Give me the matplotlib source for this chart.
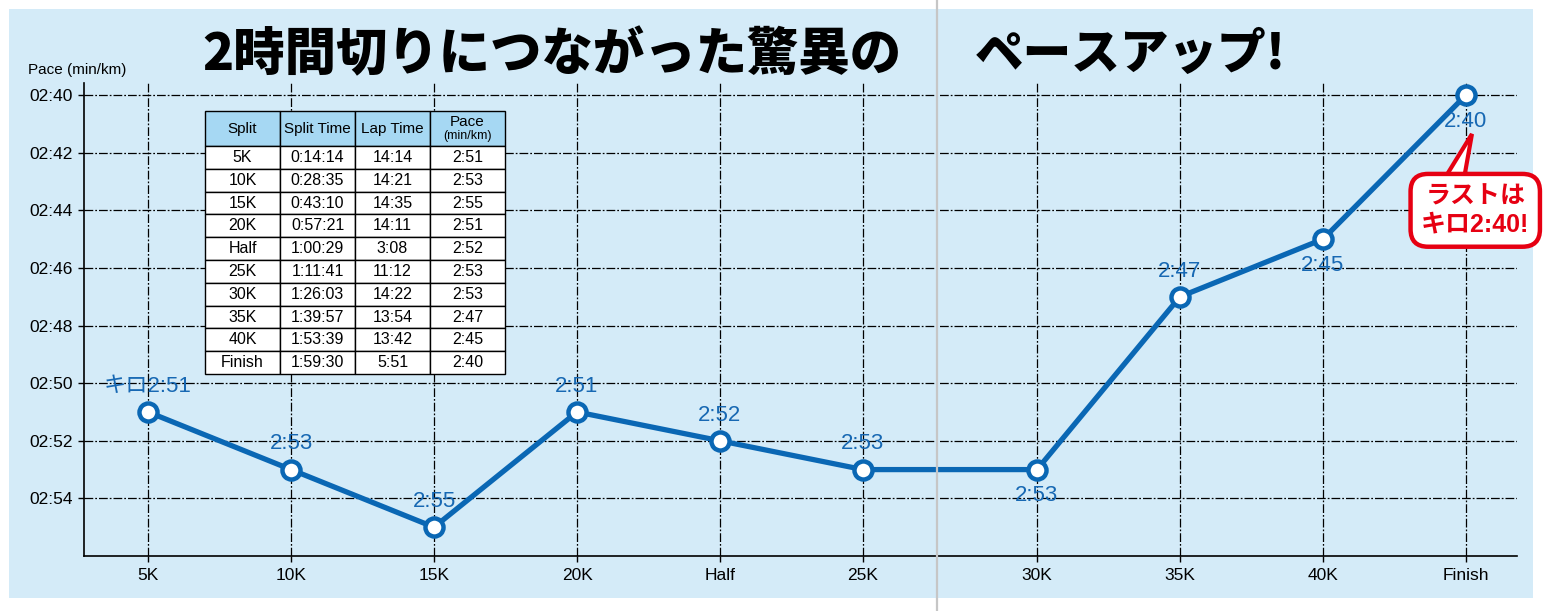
import matplotlib
matplotlib.use("Agg")
import matplotlib.pyplot as plt
from matplotlib.patches import Rectangle, Polygon
from matplotlib.lines import Line2D

# race data
splits = ["5K", "10K", "15K", "20K", "Half", "25K", "30K", "35K", "40K", "Finish"]
split_times = ["0:14:14", "0:28:35", "0:43:10", "0:57:21", "1:00:29",
               "1:11:41", "1:26:03", "1:39:57", "1:53:39", "1:59:30"]
lap_times = ["14:14", "14:21", "14:35", "14:11", "3:08",
             "11:12", "14:22", "13:54", "13:42", "5:51"]
pace = ["2:51", "2:53", "2:55", "2:51", "2:52", "2:53", "2:53", "2:47", "2:45", "2:40"]
label_side = ["above", "above", "above", "above", "above", "above",
              "below", "above", "below", "below"]


def to_sec(t):
    m, s = t.split(":")
    return int(m) * 60 + int(s)


pace_sec = [to_sec(p) for p in pace]

BLUE = "#0a67b4"
LABEL_BLUE = "#1768b3"
RED = "#e60012"
BG = "#d4ebf8"

plt.rcParams['font.family'] = ['Liberation Sans', 'Noto Sans CJK JP', 'DejaVu Sans']

W, H = 1549, 611
fig = plt.figure(figsize=(W / 100, H / 100), dpi=100)
fig.patch.set_facecolor("white")
fig.add_artist(Rectangle((9 / W, 1 - 598 / H), (1533 - 9) / W, (598 - 9) / H,
                         transform=fig.transFigure, facecolor=BG, edgecolor="none", zorder=0))

ax = fig.add_axes([84 / W, 1 - 556 / H, (1517 - 84) / W, (556 - 83) / H])
ax.set_facecolor("none")

# gap for the page gutter between 25K and 30K
xs = [i + (0.217 if i >= 6 else 0) for i in range(len(splits))]

ax.plot(xs, pace_sec, color=BLUE, lw=3.8, marker="o", markersize=13,
        markerfacecolor="white", markeredgecolor=BLUE, markeredgewidth=3.2, zorder=4)

for i, (x, y) in enumerate(zip(xs, pace_sec)):
    txt = pace[i] if i > 0 else "キロ" + pace[i]
    dy = 18.5 if label_side[i] == "above" else -19
    ax.annotate(txt, (x, y), xytext=(0, dy), textcoords="offset points",
                ha="center", va="center", fontsize=16, color=LABEL_BLUE, zorder=5)

ax.set_xlim(-0.448, 9.574)
ax.set_ylim(176.0, 159.58)
ax.set_xticks(xs)
ax.set_xticklabels(splits)
yt = list(range(160, 175, 2))
ax.set_yticks(yt)
ax.set_yticklabels([f"{v // 60:02d}:{v % 60:02d}" for v in yt])
ax.tick_params(length=4.5, width=1, labelsize=12.5, colors="black")
ax.tick_params(axis="y", pad=3.5)
ax.tick_params(axis="x", pad=4)

for s in ["top", "right"]:
    ax.spines[s].set_visible(False)
for s in ["left", "bottom"]:
    ax.spines[s].set_linewidth(1.2)

ax.grid(True, color="black", lw=0.9, linestyle=(0, (7, 1.6, 1.4, 1.6)))
ax.set_axisbelow(True)

# split table
rows = [[a, b, c, d] for a, b, c, d in zip(splits, split_times, lap_times, pace)]
tbl = ax.table(cellText=rows, colLabels=["Split", "Split Time", "Lap Time", ""],
               cellLoc="center",
               bbox=[(205 - 84) / 1433, (556 - 374) / 473, 300 / 1433, (374 - 111) / 473])
tbl.auto_set_font_size(False)
tbl.set_fontsize(11.5)
tbl.set_zorder(6)
for (r, c), cell in tbl.get_celld().items():
    cell.set_edgecolor("black")
    cell.set_linewidth(1.0)
    if r == 0:
        cell.set_facecolor("#a6d8f3")
        cell.set_height(cell.get_height() * 35 / 22.8)
        cell.get_text().set_fontsize(11)
    else:
        cell.set_facecolor("white")
ax.text((467.5 - 84) / 1433, (556 - 122) / 473, "Pace", transform=ax.transAxes,
        ha="center", va="center", fontsize=11, zorder=7)
ax.text((467.5 - 84) / 1433, (556 - 136) / 473, "(min/km)", transform=ax.transAxes,
        ha="center", va="center", fontsize=9, zorder=7)

# callout pointer and box
fx, fy = xs[-1], pace_sec[-1]
ax.add_patch(Polygon([(fx + 0.042, fy + 1.35), (fx - 0.2, fy + 3.3), (fx - 0.028, fy + 3.3)],
                     closed=True, fc="white", ec=RED, lw=3, zorder=7, clip_on=False,
                     joinstyle="miter"))
ax.text(fx + 0.065, fy + 4.0, "ラストは\nキロ2:40!", ha="center", va="center",
        fontsize=18, fontweight="bold", color=RED, linespacing=1.2, zorder=8, clip_on=False,
        bbox=dict(boxstyle="round,pad=0.42,rounding_size=0.7", fc="white", ec=RED, lw=3.2))

# texts outside the axes
fig.text(28 / W, 1 - 70 / H, "Pace (min/km)", ha="left", va="center", fontsize=11)
fig.text(552 / W, 1 - 55 / H, "2時間切りにつながった驚異の", ha="center", va="center",
         fontsize=37, fontweight="heavy", family=["Noto Sans CJK JP"])
fig.text(975 / W, 1 - 55 / H, "ペースアップ!", ha="left", va="center",
         fontsize=35, fontweight="heavy", family=["Noto Sans CJK JP"])

# page gutter
fig.add_artist(Line2D([937 / W, 937 / W], [0, 1], transform=fig.transFigure,
                      color="#c6c6c6", lw=1.6, zorder=20))

fig.savefig("out.png", dpi=100, facecolor="white")
